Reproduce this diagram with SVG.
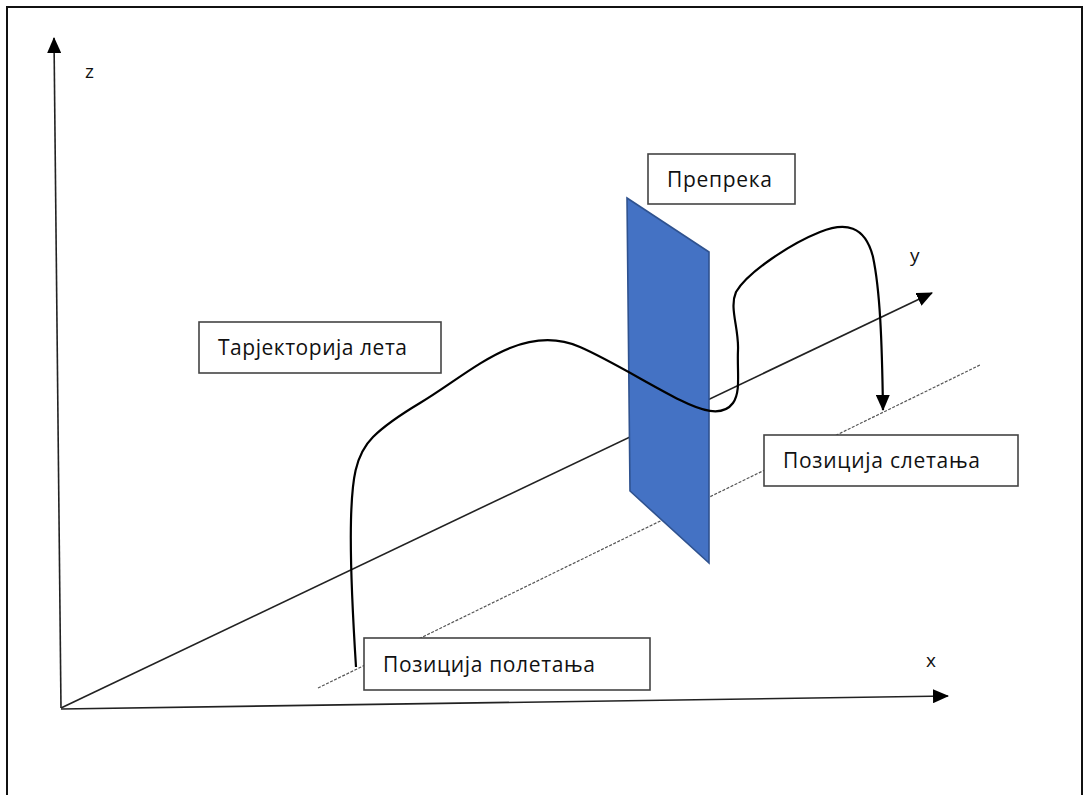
<svg xmlns="http://www.w3.org/2000/svg" width="1090" height="795" viewBox="0 0 1090 795">
  <style>
    .axis { stroke: #222; stroke-width: 1.6; fill: none; }
    .guide { stroke: #555; stroke-width: 1.2; stroke-dasharray: 3 1.5; fill: none; }
    .path { stroke: #000; stroke-width: 2.2; fill: none; }
    .box { fill: #fff; stroke: #444; stroke-width: 1.6; }
    .lbl { font-family: "Open Sans", "Noto Sans", "DejaVu Sans", sans-serif; font-size: 21px; fill: #111; }
    .ax { font-family: "Open Sans", "Noto Sans", "DejaVu Sans", sans-serif; font-size: 19px; fill: #111; }
  </style>
  <defs>
    <marker id="triBig" viewBox="0 0 16 14" refX="15" refY="7" markerWidth="16" markerHeight="14" orient="auto" markerUnits="userSpaceOnUse">
      <path d="M0,0 L16,7 L0,14 z" fill="#000"/>
    </marker>
  </defs>

  <rect width="1090" height="795" fill="#fff"/>
  <!-- frame -->
  <path d="M7,795 L7,7 L1082,7 L1082,795" fill="none" stroke="#111" stroke-width="2"/>

  <g id="connectors">
    <!-- axes -->
    <line class="axis" x1="61" y1="708" x2="54" y2="38" marker-end="url(#triBig)"/>
    <line class="axis" x1="61" y1="709" x2="948" y2="696" marker-end="url(#triBig)"/>
    <line class="axis" x1="61" y1="708" x2="932" y2="293" marker-end="url(#triBig)"/>
    <!-- ground line through take-off and landing points -->
    <line class="guide" x1="318" y1="688" x2="980" y2="365"/>
  </g>

  <g id="obstacle">
    <polygon points="627,198 709,252 709,563 630,491" fill="#4472C4" stroke="#2F528F" stroke-width="1.6"/>
  </g>

  <g id="trajectory">
    <path class="path" marker-end="url(#triBig)" d="M356,667 C353,620 350,560 351,520 C352,480 355,455 373,437 C385,425 400,415 420,403 C450,385 480,360 510,348 C530,340 555,336 580,347 C610,360 650,385 680,400 C700,410 722,418 733,403 C741,392 737,372 738,350 C739,328 729,308 736,292 C748,272 790,244 820,232 C845,222 865,225 873,257 C880,290 882,340 883,410"/>
  </g>

  <g id="axis-labels">
    <text class="ax" x="85" y="78">z</text>
    <text class="ax" x="926" y="667">x</text>
    <text class="ax" x="910" y="262">y</text>
  </g>

  <g id="node-prepreka">
    <rect class="box" x="648" y="154" width="147" height="50"/>
    <text class="lbl" x="667" y="187" textLength="105">Препрека</text>
  </g>
  <g id="node-trajektorija">
    <rect class="box" x="199" y="322" width="242" height="51"/>
    <text class="lbl" x="218" y="355" textLength="189">Тарјекторија лета</text>
  </g>
  <g id="node-sletanje">
    <rect class="box" x="764" y="435" width="254" height="51"/>
    <text class="lbl" x="783" y="468" textLength="197">Позиција слетања</text>
  </g>
  <g id="node-poletanje">
    <rect class="box" x="364" y="638" width="286" height="52"/>
    <text class="lbl" x="383" y="672" textLength="212">Позиција полетања</text>
  </g>
</svg>
